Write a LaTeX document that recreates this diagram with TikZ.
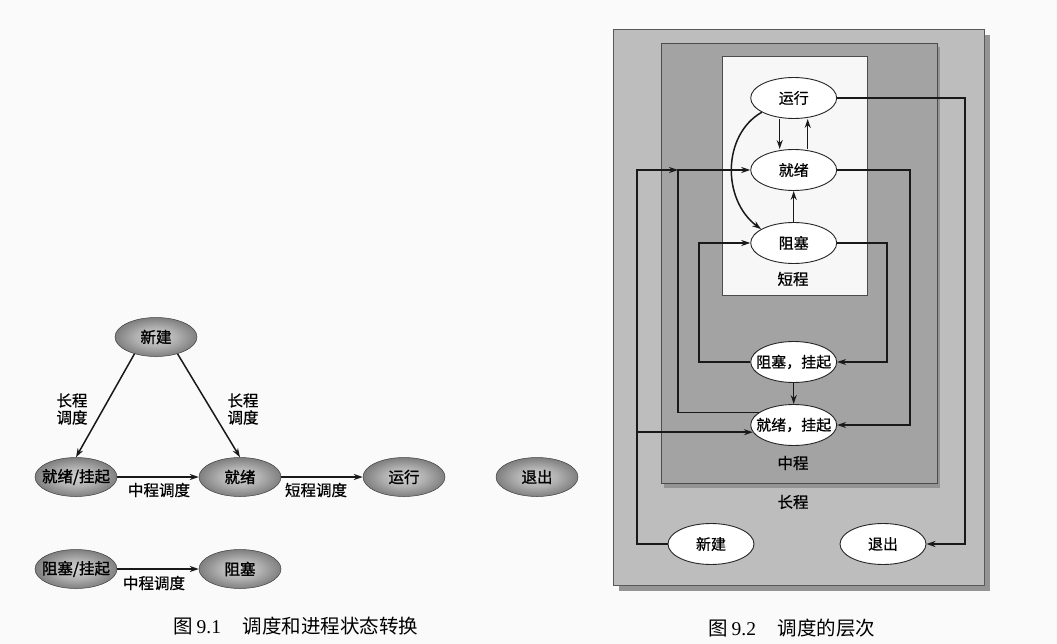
\documentclass[tikz,border=0pt]{standalone}
\usepackage{fontspec}
\setmainfont{Noto Sans CJK SC}
\newfontfamily\cjkb{Noto Sans CJK SC}[FakeBold=1.4]
\newfontfamily\cjkm{Noto Sans CJK SC}[FakeBold=0.7]
\newfontfamily\lat{Liberation Serif}
\usetikzlibrary{shapes.geometric,arrows.meta,calc}
\pgfdeclareradialshading{eball}{\pgfpoint{0bp}{0bp}}{color(0bp)=(black!18);color(12bp)=(black!30);color(30bp)=(black!58);color(46bp)=(black!78);color(50bp)=(black!82)}
\newcommand{\zw}[1]{\makebox[0pt]{#1}}
\begin{document}
\begin{tikzpicture}[x=1pt,y=-1pt,
  dnode/.style={ellipse, draw=black!75, line width=0.5pt, shade, shading=eball,
    minimum width=82pt, minimum height=39pt, inner sep=0pt,
    font=\cjkb\fontsize{15.5}{15.5}\selectfont},
  lnode/.style={ellipse, draw=black!85, line width=0.9pt, fill=white,
    minimum width=86pt, minimum height=41pt, inner sep=0pt,
    font=\cjkm\fontsize{15}{15}\selectfont},
  arr/.style={draw=black!90, line width=1.5pt, -{Stealth[length=9pt,width=6pt]}},
  lab/.style={font=\cjkm\fontsize{15.5}{17}\selectfont, inner sep=0pt, align=center},
  captxt/.style={font=\fontsize{19.5}{19.5}\selectfont, inner sep=0pt}
]
\useasboundingbox[fill=black!2] (0,0) rectangle (1057,644);

% ---------- Figure 9.1 ----------
\node[dnode] (xj1) at (156,337) {\zw{新建}};
\node[dnode] (jgs) at (76,477) {\zw{就绪/挂起}};
\node[dnode] (jx) at (240,477) {\zw{就绪}};
\node[dnode] (yx) at (404,477) {\zw{运行}};
\node[dnode] (tc1) at (537,477) {\zw{退出}};
\node[dnode] (zs) at (76,569) {\zw{阻塞/挂起}};
\node[dnode] (zb) at (240,569) {\zw{阻塞}};

\draw[arr] (xj1.218) -- (jgs.north);
\draw[arr] (xj1.322) -- (jx.north);
\draw[arr] (jgs) -- (jx);
\draw[arr] (jx) -- (yx);
\draw[arr] (zs) -- (zb);

\node[lab] (l1) at (72,409) {长程\\调度};
\node[lab] (l2) at (243,409) {长程\\调度};
\node[lab] (l3) at (159,490) {中程调度};
\node[lab] (l4) at (316,490) {短程调度};
\node[lab] (l5) at (154,583) {中程调度};

\node[captxt] (cap1) at (296,626) {图\,{\lat 9.1}\hspace{1.1em}调度和进程状态转换};

% ---------- Figure 9.2 ----------
\fill[black!42] (619,35) rectangle (990,591);
\filldraw[fill=black!26, draw=black!65, line width=0.7pt] (613,29) rectangle (984,585);
\fill[black!42] (664,47) rectangle (940,488);
\filldraw[fill=black!36, draw=black!70, line width=0.7pt] (661,43) rectangle (937,483);
\filldraw[fill=black!3, draw=black!70, line width=0.7pt] (722,56) rectangle (867,295);

\node[lab] (sc) at (793,279) {短程};
\node[lab] (zc) at (793,463) {中程};
\node[lab] (cc) at (793,502) {长程};

\node[lnode] (r) at (793.7,98) {\zw{运行}};
\node[lnode] (j) at (793.7,170) {\zw{就绪}};
\node[lnode] (z) at (793.7,243) {\zw{阻塞}};
\node[lnode] (zg) at (793.7,362) {\zw{阻塞，挂起}};
\node[lnode] (jg) at (793.7,425) {\zw{就绪，挂起}};
\node[lnode] (xj) at (711,544) {\zw{新建}};
\node[lnode] (tc) at (883,544) {\zw{退出}};

\coordinate (c1) at (965,98);
\coordinate (c2) at (910,170);
\coordinate (c3) at (887,243);
\coordinate (c4) at (699,362);
\coordinate (c5) at (678,170);
\coordinate (c6) at (637,544);

\draw[arr] (r) -- (c1) |- (tc);
\draw[arr] ([xshift=-14pt]r.south) -- ([xshift=-14pt]j.north);
\draw[arr] ([xshift=14pt]j.north) -- ([xshift=14pt]r.south);
\draw[arr] (z) -- (j);
\draw[arr] (r.204) .. controls (722,135) and (722,200) .. (z.157);
\draw[arr] (j) -- (c2) |- (jg);
\draw[arr] (z) -- (c3) |- (zg);
\draw[arr] (zg) -- (c4) |- (z);
\draw[arr] (zg) -- (jg);
\draw[arr] (jg.160) -- (jg.160 -| c5) |- (j);
\draw[arr] (xj) -- (c6) |- (c5);
\draw[arr] (jg.190 -| c6) -- (jg.190);

\node[captxt] (cap2) at (792,628) {图\,{\lat 9.2}\hspace{1.1em}调度的层次};
\end{tikzpicture}
\end{document}
